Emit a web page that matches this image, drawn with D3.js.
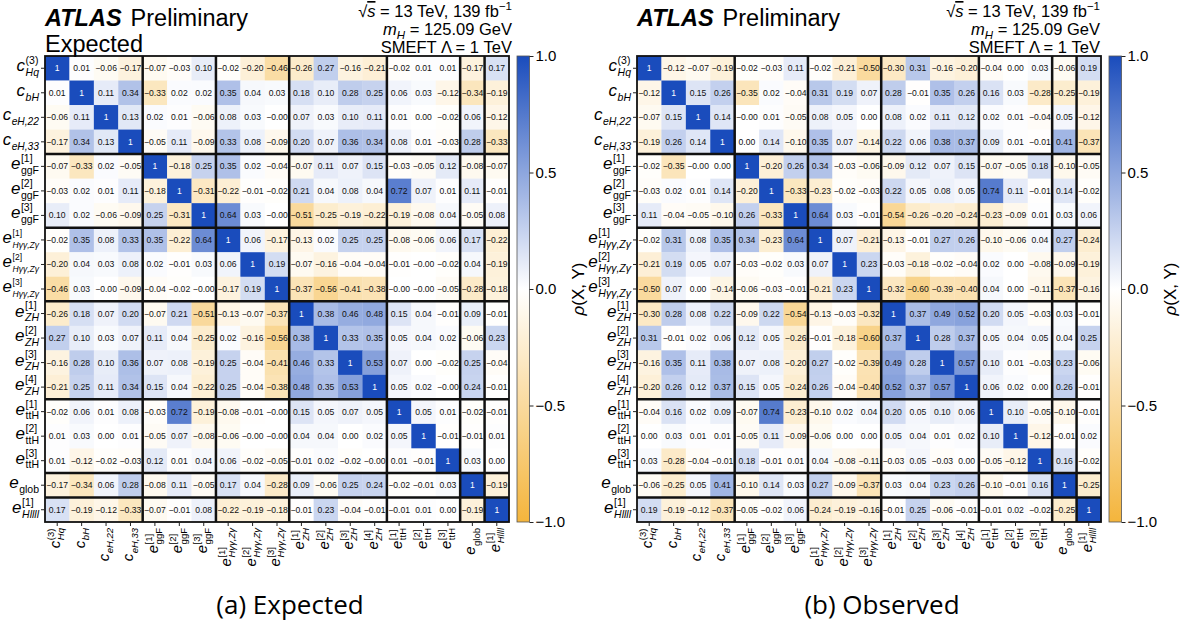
<!DOCTYPE html>
<html><head><meta charset="utf-8">
<script src="https://cdn.jsdelivr.net/npm/d3@7"></script>
<style>
html,body{margin:0;padding:0;background:#fff;}
svg{display:block;font-family:"Liberation Sans",Arial,sans-serif;}
</style></head>
<body><svg id="chart" width="1183" height="627"></svg>
<script>
// ---------- data ----------
const rowLabels = [
  {main:"c", sup:"(3)", sub:"Hq", subIt:true},
  {main:"c", sub:"bH", subIt:true},
  {main:"c", sub:"eH,22", subIt:true},
  {main:"c", sub:"eH,33", subIt:true},
  {main:"e", sup:"[1]", sub:"ggF", subIt:false},
  {main:"e", sup:"[2]", sub:"ggF", subIt:false},
  {main:"e", sup:"[3]", sub:"ggF", subIt:false},
  {main:"e", sup:"[1]", sub:"Hγγ,Zγ", subIt:true},
  {main:"e", sup:"[2]", sub:"Hγγ,Zγ", subIt:true},
  {main:"e", sup:"[3]", sub:"Hγγ,Zγ", subIt:true},
  {main:"e", sup:"[1]", sub:"ZH", subIt:true},
  {main:"e", sup:"[2]", sub:"ZH", subIt:true},
  {main:"e", sup:"[3]", sub:"ZH", subIt:true},
  {main:"e", sup:"[4]", sub:"ZH", subIt:true},
  {main:"e", sup:"[1]", sub:"ttH", subIt:false},
  {main:"e", sup:"[2]", sub:"ttH", subIt:false},
  {main:"e", sup:"[3]", sub:"ttH", subIt:false},
  {main:"e", sub:"glob", subIt:false},
  {main:"e", sup:"[1]", sub:"Hllll", subIt:true}
];
const groupSizes = [4, 3, 3, 4, 3, 1, 1];

const expected = [
  [1, 0.01, -0.06, -0.17, -0.07, -0.03, 0.10, -0.02, -0.20, -0.46, -0.26, 0.27, -0.16, -0.21, -0.02, 0.01, 0.01, -0.17, 0.17],
  [0.01, 1, 0.11, 0.34, -0.33, 0.02, 0.02, 0.35, 0.04, 0.03, 0.18, 0.10, 0.28, 0.25, 0.06, 0.03, -0.12, -0.34, -0.19],
  [-0.06, 0.11, 1, 0.13, 0.02, 0.01, -0.06, 0.08, 0.03, -0.00, 0.07, 0.03, 0.10, 0.11, 0.01, 0.00, -0.02, 0.06, -0.12],
  [-0.17, 0.34, 0.13, 1, -0.05, 0.11, -0.09, 0.33, 0.08, -0.09, 0.20, 0.07, 0.36, 0.34, 0.08, 0.01, -0.03, 0.28, -0.33],
  [-0.07, -0.33, 0.02, -0.05, 1, -0.18, 0.25, 0.35, 0.02, -0.04, -0.07, 0.11, 0.07, 0.15, -0.03, -0.05, 0.12, -0.08, -0.07],
  [-0.03, 0.02, 0.01, 0.11, -0.18, 1, -0.31, -0.22, -0.01, -0.02, 0.21, 0.04, 0.08, 0.04, 0.72, 0.07, 0.01, 0.11, -0.01],
  [0.10, 0.02, -0.06, -0.09, 0.25, -0.31, 1, 0.64, 0.03, -0.00, -0.51, -0.25, -0.19, -0.22, -0.19, -0.08, 0.04, -0.05, 0.08],
  [-0.02, 0.35, 0.08, 0.33, 0.35, -0.22, 0.64, 1, 0.06, -0.17, -0.13, 0.02, 0.25, 0.25, -0.08, -0.06, 0.06, 0.17, -0.22],
  [-0.20, 0.04, 0.03, 0.08, 0.02, -0.01, 0.03, 0.06, 1, 0.19, -0.07, -0.16, -0.04, -0.04, -0.01, -0.00, -0.02, 0.04, -0.19],
  [-0.46, 0.03, -0.00, -0.09, -0.04, -0.02, -0.00, -0.17, 0.19, 1, -0.37, -0.56, -0.41, -0.38, -0.00, -0.00, -0.05, -0.28, -0.18],
  [-0.26, 0.18, 0.07, 0.20, -0.07, 0.21, -0.51, -0.13, -0.07, -0.37, 1, 0.38, 0.46, 0.48, 0.15, 0.04, -0.01, 0.09, -0.01],
  [0.27, 0.10, 0.03, 0.07, 0.11, 0.04, -0.25, 0.02, -0.16, -0.56, 0.38, 1, 0.33, 0.35, 0.05, 0.04, 0.02, -0.06, 0.23],
  [-0.16, 0.28, 0.10, 0.36, 0.07, 0.08, -0.19, 0.25, -0.04, -0.41, 0.46, 0.33, 1, 0.53, 0.07, 0.00, -0.02, 0.25, -0.04],
  [-0.21, 0.25, 0.11, 0.34, 0.15, 0.04, -0.22, 0.25, -0.04, -0.38, 0.48, 0.35, 0.53, 1, 0.05, 0.02, -0.00, 0.24, -0.01],
  [-0.02, 0.06, 0.01, 0.08, -0.03, 0.72, -0.19, -0.08, -0.01, -0.00, 0.15, 0.05, 0.07, 0.05, 1, 0.05, 0.01, -0.02, -0.01],
  [0.01, 0.03, 0.00, 0.01, -0.05, 0.07, -0.08, -0.06, -0.00, -0.00, 0.04, 0.04, 0.00, 0.02, 0.05, 1, -0.01, -0.01, 0.01],
  [0.01, -0.12, -0.02, -0.03, 0.12, 0.01, 0.04, 0.06, -0.02, -0.05, -0.01, 0.02, -0.02, -0.00, 0.01, -0.01, 1, 0.03, 0.00],
  [-0.17, -0.34, 0.06, 0.28, -0.08, 0.11, -0.05, 0.17, 0.04, -0.28, 0.09, -0.06, 0.25, 0.24, -0.02, -0.01, 0.03, 1, -0.19],
  [0.17, -0.19, -0.12, -0.33, -0.07, -0.01, 0.08, -0.22, -0.19, -0.18, -0.01, 0.23, -0.04, -0.01, -0.01, 0.01, 0.00, -0.19, 1]
];

const observed = [
  [1, -0.12, -0.07, -0.19, -0.02, -0.03, 0.11, -0.02, -0.21, -0.50, -0.30, 0.31, -0.16, -0.20, -0.04, 0.00, 0.03, -0.06, 0.19],
  [-0.12, 1, 0.15, 0.26, -0.35, 0.02, -0.04, 0.31, 0.19, 0.07, 0.28, -0.01, 0.35, 0.26, 0.16, 0.03, -0.28, -0.25, -0.19],
  [-0.07, 0.15, 1, 0.14, -0.00, 0.01, -0.05, 0.08, 0.05, 0.00, 0.08, 0.02, 0.11, 0.12, 0.02, 0.01, -0.04, 0.05, -0.12],
  [-0.19, 0.26, 0.14, 1, 0.00, 0.14, -0.10, 0.35, 0.07, -0.14, 0.22, 0.06, 0.38, 0.37, 0.09, 0.01, -0.01, 0.41, -0.37],
  [-0.02, -0.35, -0.00, 0.00, 1, -0.20, 0.26, 0.34, -0.03, -0.06, -0.09, 0.12, 0.07, 0.15, -0.07, -0.05, 0.18, -0.10, -0.05],
  [-0.03, 0.02, 0.01, 0.14, -0.20, 1, -0.33, -0.23, -0.02, -0.03, 0.22, 0.05, 0.08, 0.05, 0.74, 0.11, -0.01, 0.14, -0.02],
  [0.11, -0.04, -0.05, -0.10, 0.26, -0.33, 1, 0.64, 0.03, -0.01, -0.54, -0.26, -0.20, -0.24, -0.23, -0.09, 0.01, 0.03, 0.06],
  [-0.02, 0.31, 0.08, 0.35, 0.34, -0.23, 0.64, 1, 0.07, -0.21, -0.13, -0.01, 0.27, 0.26, -0.10, -0.06, 0.04, 0.27, -0.24],
  [-0.21, 0.19, 0.05, 0.07, -0.03, -0.02, 0.03, 0.07, 1, 0.23, -0.03, -0.18, -0.02, -0.04, 0.02, 0.00, -0.08, -0.09, -0.19],
  [-0.50, 0.07, 0.00, -0.14, -0.06, -0.03, -0.01, -0.21, 0.23, 1, -0.32, -0.60, -0.39, -0.40, 0.04, 0.00, -0.11, -0.37, -0.16],
  [-0.30, 0.28, 0.08, 0.22, -0.09, 0.22, -0.54, -0.13, -0.03, -0.32, 1, 0.37, 0.49, 0.52, 0.20, 0.05, -0.03, 0.03, -0.01],
  [0.31, -0.01, 0.02, 0.06, 0.12, 0.05, -0.26, -0.01, -0.18, -0.60, 0.37, 1, 0.28, 0.37, 0.05, 0.04, 0.05, 0.04, 0.25],
  [-0.16, 0.35, 0.11, 0.38, 0.07, 0.08, -0.20, 0.27, -0.02, -0.39, 0.49, 0.28, 1, 0.57, 0.10, 0.01, -0.03, 0.23, -0.06],
  [-0.20, 0.26, 0.12, 0.37, 0.15, 0.05, -0.24, 0.26, -0.04, -0.40, 0.52, 0.37, 0.57, 1, 0.06, 0.02, 0.00, 0.26, -0.01],
  [-0.04, 0.16, 0.02, 0.09, -0.07, 0.74, -0.23, -0.10, 0.02, 0.04, 0.20, 0.05, 0.10, 0.06, 1, 0.10, -0.05, -0.10, -0.01],
  [0.00, 0.03, 0.01, 0.01, -0.05, 0.11, -0.09, -0.06, 0.00, 0.00, 0.05, 0.04, 0.01, 0.02, 0.10, 1, -0.12, -0.01, 0.02],
  [0.03, -0.28, -0.04, -0.01, 0.18, -0.01, 0.01, 0.04, -0.08, -0.11, -0.03, 0.05, -0.03, 0.00, -0.05, -0.12, 1, 0.16, -0.02],
  [-0.06, -0.25, 0.05, 0.41, -0.10, 0.14, 0.03, 0.27, -0.09, -0.37, 0.03, 0.04, 0.23, 0.26, -0.10, -0.01, 0.16, 1, -0.25],
  [0.19, -0.19, -0.12, -0.37, -0.05, -0.02, 0.06, -0.24, -0.19, -0.16, -0.01, 0.25, -0.06, -0.01, -0.01, 0.02, -0.02, -0.25, 1]
];

const colorbarTicks = [-1.0, -0.5, 0.0, 0.5, 1.0];
const captions = ["(a) Expected", "(b) Observed"];
const subTitles = ["Expected", ""];
const infoLines = ["13 TeV, 139 fb", "125.09 GeV", "SMEFT Λ = 1 TeV"];

// ---------- layout ----------
const svg = d3.select("#chart");
const color = d3.scaleLinear().domain([-1, 0, 1]).range(["#f4b53c", "#ffffff", "#1a4cbc"]).clamp(true);
const fmt = v => v === 1 ? "1" : ((v < 0 || Object.is(v, -0)) ? "\u2212" : "") + Math.abs(v).toFixed(2);

const panels = [
  {data: expected, x0: 45, y0: 56, size: 464, cbX: 517, rhoX: 578, capX: 290, info: 512},
  {data: observed, x0: 637, y0: 56, size: 464, cbX: 1109, rhoX: 1170, capX: 882, info: 1100}
];

const defs = svg.append("defs");
const grad = defs.append("linearGradient").attr("id", "cbgrad").attr("x1", 0).attr("y1", 1).attr("x2", 0).attr("y2", 0);
d3.range(0, 1.0001, 0.05).forEach(t => grad.append("stop").attr("offset", t).attr("stop-color", color(-1 + 2 * t)));

function drawLabel(parent, spec, M, S, sep) {
  const g = parent.append("g");
  const main = g.append("text").attr("x", 0).attr("y", 0).style("font-size", M + "px").style("font-style", "italic").text(spec.main);
  const w1 = main.node().getComputedTextLength();
  let ws = 0;
  if (spec.sup) {
    const t = g.append("text").attr("x", w1 + sep).attr("y", -0.42 * M).style("font-size", S + "px").text(spec.sup);
    ws = Math.max(ws, t.node().getComputedTextLength());
  }
  if (spec.sub) {
    const t = g.append("text").attr("x", w1 + sep).attr("y", 0.28 * M).style("font-size", S + "px")
      .style("font-style", spec.subIt ? "italic" : "normal").text(spec.sub);
    ws = Math.max(ws, t.node().getComputedTextLength());
  }
  return {g, width: w1 + sep + ws};
}

function fittedLabel(parent, spec, M, S, sep, maxW) {
  let L = drawLabel(parent, spec, M, S, sep);
  while (L.width > maxW && S > 7) {
    L.g.remove();
    S -= 0.25;
    L = drawLabel(parent, spec, M, S, sep);
  }
  return L;
}

panels.forEach((p, pi) => {
  const n = rowLabels.length;
  const idx = d3.range(n);
  const x = d3.scaleBand().domain(idx).range([p.x0, p.x0 + p.size]);
  const y = d3.scaleBand().domain(idx).range([p.y0, p.y0 + p.size * 466 / 464]);
  const G = svg.append("g");

  const cells = [];
  p.data.forEach((row, i) => row.forEach((v, j) => cells.push({i, j, v})));
  G.selectAll("rect.cell").data(cells).join("rect").attr("class", "cell")
    .attr("x", d => x(d.j)).attr("y", d => y(d.i))
    .attr("width", x.bandwidth() + 0.3).attr("height", y.bandwidth() + 0.3)
    .attr("fill", d => color(d.v));
  G.selectAll("text.val").data(cells).join("text").attr("class", "val")
    .attr("x", d => x(d.j) + x.bandwidth() / 2).attr("y", d => y(d.i) + y.bandwidth() / 2)
    .attr("dy", "0.35em").attr("text-anchor", "middle")
    .style("font-size", "8.6px").attr("fill", d => d.i === d.j ? "#fff" : "#111")
    .text(d => fmt(d.v));

  // group separators
  const bounds = d3.cumsum(groupSizes).slice(0, -1);
  const xr = x.range(), yr = y.range();
  bounds.forEach(b => {
    G.append("line").attr("x1", x(b)).attr("x2", x(b)).attr("y1", yr[0]).attr("y2", yr[1]).attr("stroke", "#111").attr("stroke-width", 2.5);
    G.append("line").attr("y1", y(b)).attr("y2", y(b)).attr("x1", xr[0]).attr("x2", xr[1]).attr("stroke", "#111").attr("stroke-width", 2.5);
  });
  G.append("rect").attr("x", xr[0]).attr("y", yr[0]).attr("width", xr[1] - xr[0]).attr("height", yr[1] - yr[0])
    .attr("fill", "none").attr("stroke", "#111").attr("stroke-width", 1.8);

  // axes ticks
  const ya = G.append("g").attr("transform", `translate(${xr[0]},0)`).call(d3.axisLeft(y).tickSize(4).tickFormat(""));
  const xa = G.append("g").attr("transform", `translate(0,${yr[1]})`).call(d3.axisBottom(x).tickSize(4).tickFormat(""));
  [ya, xa].forEach(a => { a.select(".domain").remove(); a.selectAll("line").attr("stroke", "#222"); });

  // row labels
  idx.forEach(i => {
    const L = fittedLabel(G, rowLabels[i], 17, 10.5, 0.5, xr[0] - 6 - 2);
    L.g.attr("transform", `translate(${xr[0] - 6 - L.width},${y(i) + y.bandwidth() / 2 + 3})`);
  });
  // column labels
  idx.forEach(j => {
    const L = drawLabel(G, rowLabels[j], 15, 9.5, 0.5);
    L.g.attr("transform", `translate(${x(j) + x.bandwidth() / 2 + 3},${yr[1] + 6}) rotate(-90) translate(${-L.width},0)`);
  });

  // colorbar
  const cbScale = d3.scaleLinear().domain([-1, 1]).range([yr[1], yr[0]]);
  G.append("rect").attr("x", p.cbX).attr("y", yr[0]).attr("width", 12.5).attr("height", yr[1] - yr[0])
    .attr("fill", "url(#cbgrad)").attr("stroke", "#555").attr("stroke-width", 0.8);
  const cba = G.append("g").attr("transform", `translate(${p.cbX + 12.5},0)`)
    .call(d3.axisRight(cbScale).tickValues(colorbarTicks).tickSize(4).tickFormat(d3.format(".1f")));
  cba.select(".domain").remove();
  cba.selectAll("line").attr("stroke", "#222");
  cba.selectAll("text").style("font-size", "15px").style("font-family", "Liberation Sans, Arial, sans-serif").attr("fill", "#000").attr("x", 6);
  const rho = G.append("text").attr("transform", `translate(${p.rhoX},${(yr[0] + yr[1]) / 2}) rotate(-90)`)
    .attr("text-anchor", "middle").attr("dy", "0.35em").style("font-size", "17px");
  rho.append("tspan").style("font-style", "italic").text("ρ");
  rho.append("tspan").text("(X, Y)");

  // header
  const h = G.append("text").attr("x", p.x0).attr("y", 26).style("font-size", "23.5px");
  h.append("tspan").style("font-weight", "bold").style("font-style", "italic").text("ATLAS");
  h.append("tspan").attr("dx", 9).text("Preliminary");
  if (subTitles[pi]) G.append("text").attr("x", p.x0).attr("y", 52).style("font-size", "23.5px").text(subTitles[pi]);

  const l1 = G.append("text").attr("x", p.info).attr("y", 17).attr("text-anchor", "end").style("font-size", "16.5px");
  l1.append("tspan").text("√");
  l1.append("tspan").style("font-style", "italic").style("text-decoration", "overline").text("s");
  l1.append("tspan").text(" = " + infoLines[0]);
  l1.append("tspan").attr("dy", -7).style("font-size", "11.5px").text("−1");
  const l2 = G.append("text").attr("x", p.info).attr("y", 35).attr("text-anchor", "end").style("font-size", "16.5px");
  l2.append("tspan").style("font-style", "italic").text("m");
  l2.append("tspan").attr("dy", 4).style("font-size", "11.5px").style("font-style", "italic").text("H");
  l2.append("tspan").attr("dy", -4).text(" = " + infoLines[1]);
  G.append("text").attr("x", p.info).attr("y", 53).attr("text-anchor", "end").style("font-size", "16.5px").text(infoLines[2]);

  // caption
  G.append("text").attr("x", p.capX).attr("y", 614).attr("text-anchor", "middle")
    .style("font-family", "'Open Sans', 'Noto Sans', sans-serif").style("font-size", "26px").text(captions[pi]);
});
</script>
</body></html>
